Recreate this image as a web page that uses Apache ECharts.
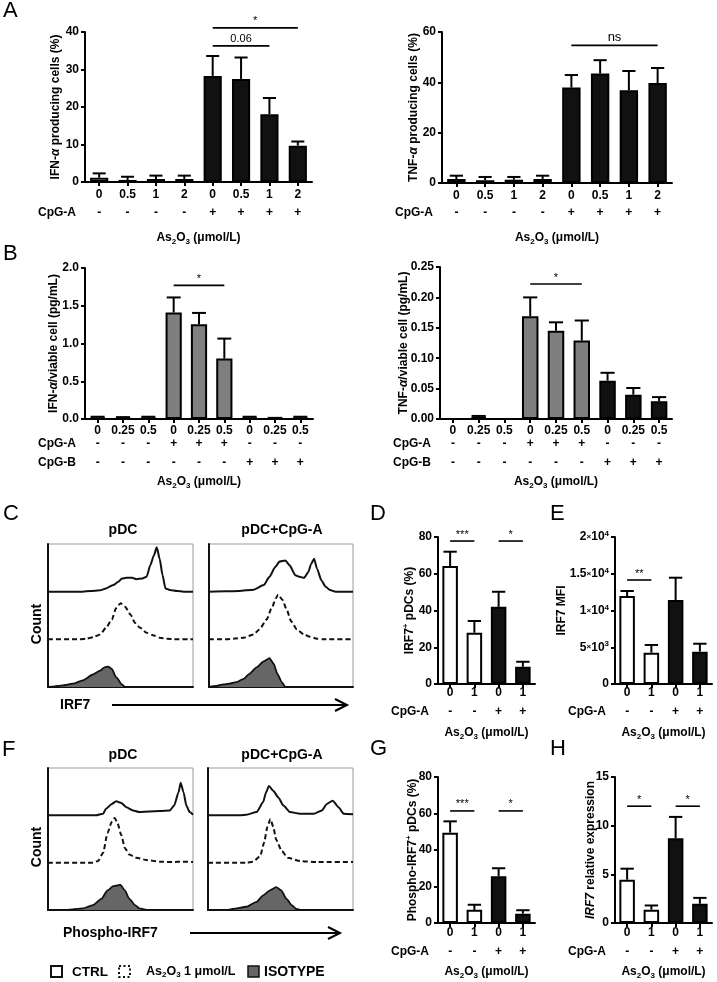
<!DOCTYPE html>
<html><head><meta charset="utf-8">
<script src="https://cdn.jsdelivr.net/npm/echarts@6/dist/echarts.min.js"></script>
<style>html,body{margin:0;padding:0;background:#fff}#c{width:717px;height:982px}</style>
</head><body><div id="c"></div><script>
// ---------- Panel A ----------
const aDose = ['0','0.5','1','2','0','0.5','1','2'];
const aCpgA = ['-','-','-','-','+','+','+','+'];
const aIfnMean = [1.15,0.55,0.8,0.8,28.3,27.5,18.1,9.7];
const aIfnSem  = [1.15,0.85,0.9,0.9,5.3,5.7,4.3,1.1];
const aIfnSig = [[4,7,41.1],[4,6,36.3]];
const aIfnSigText = ['*','0.06'];
const aTnfMean = [1.6,1.1,1.3,1.6,37.9,43.5,36.9,39.7];
const aTnfSem  = [1.3,1.3,1.1,1.3,5.0,5.3,7.6,6.0];
const aTnfSig = [[4,7,54.7]];
const aTnfSigText = ['ns'];
// ---------- Panel B ----------
const bDose = ['0','0.25','0.5','0','0.25','0.5','0','0.25','0.5'];
const bCpgA = ['-','-','-','+','+','+','-','-','-'];
const bCpgB = ['-','-','-','-','-','-','+','+','+'];
const bIfnMean = [0.02,0.015,0.02,1.41,1.255,0.80,0.02,0.01,0.02];
const bIfnSem  = [0.01,0.01,0.01,0.20,0.15,0.265,0.01,0.005,0.01];
const bIfnSig = [[3,5,1.77]];
const bIfnSigText = ['*'];
const bTnfMean = [0,0.003,0,0.169,0.145,0.129,0.063,0.040,0.029];
const bTnfSem  = [0,0.002,0,0.031,0.014,0.033,0.013,0.011,0.007];
const bTnfSig = [[3,5,0.222]];
const bTnfSigText = ['*'];
// ---------- Panels D, E, G, H ----------
const dDose = ['0','1','0','1'];
const dCpgA = ['-','-','+','+'];
const dMean = [64.2,27.9,42,9.4];
const dSem  = [7.8,6.4,8.2,2.7];
const dSig = [[0,1,77.8],[2,3,77.8]];
const dSigText = ['***','*'];
const eMean = [11970,4260,11430,4400];
const eSem  = [680,1050,3030,1080];
const eSig = [[0,1,14150]];
const eSigText = ['**'];
const eTicks = ['0','5×10³','1×10⁴','1.5×10⁴','2×10⁴'];
const gMean = [49.5,7.2,25.6,5.1];
const gSem  = [6.2,2.8,4.4,1.9];
const gSig = [[0,1,61.4],[2,3,61.4]];
const gSigText = ['***','*'];
const hMean = [4.45,1.37,8.7,1.98];
const hSem  = [1.13,0.43,2.2,0.6];
const hSig = [[0,1,12],[2,3,12]];
const hSigText = ['*','*'];
// ---------- Histograms C (IRF7) and F (Phospho-IRF7): [channel %, count] ----------
const cPdcCtrl = [[0,0],[24,0],[29,2],[36,4],[40,10],[45,20],[48.5,30],[51,40],[54,42],[58,42],[61,38],[65,40],[68,45],[70.5,80],[73,110],[75,135],[77,100],[79,50],[81,10],[84,5],[89,2],[93.5,0],[100,0]];
const cPdcAs = [[0,0],[22,0],[26.5,2],[31,6],[36,15],[40,35],[44,60],[47,95],[50,110],[53,100],[57,75],[60,50],[63.5,35],[68,20],[73,12],[77,5],[82,2],[87,0],[100,0]];
const cPdcIso = [[0,0],[4.6,2],[10,5],[17,10],[24,20],[31,38],[36,50],[39,60],[41.5,62],[44,55],[47,30],[51,8],[53,0],[100,0]];
const cCpgCtrl = [[0,0],[12,1],[21,2],[31,6],[38,20],[42,45],[46,75],[49,92],[53,95],[56,80],[60,50],[63,45],[66,42],[69,60],[71,85],[73,100],[75,70],[78,35],[81,15],[84,5],[88,0],[100,0]];
const cCpgAs = [[0,0],[12,0],[17,2],[24,5],[31,15],[35,30],[40,60],[43.5,95],[46.5,125],[48,136],[51,120],[54,90],[57,55],[61,30],[66,15],[70,8],[75,2],[79.5,0],[100,0]];
const cCpgIso = [[0,0],[5,3],[10,8],[14,10],[19,15],[24,25],[28,40],[33,60],[38,78],[42,88],[45,70],[47.5,40],[50.5,15],[53,0],[100,0]];
const fPdcCtrl = [[0,0],[33,0],[38,5],[40,20],[44,35],[47,43],[50.5,38],[54,25],[58.6,15],[63,10],[70,12],[77,13],[84,15],[87,30],[90,70],[91.5,100],[93.5,70],[95.4,30],[97.7,10],[100,2]];
const fPdcAs = [[0,0],[31,0],[34.5,5],[38,30],[41,90],[44,125],[46,137],[48,120],[50.5,85],[53,45],[56,25],[61,15],[68,8],[77,3],[86,2],[93,3],[100,2]];
const fPdcIso = [[0,0],[12.6,0],[17,2],[24,5],[31,15],[37,35],[41,60],[45,73],[47.6,75],[50,77],[53,60],[56,35],[60,15],[63,5],[68,0],[100,0]];
const fCpgCtrl = [[0,0],[22,0],[26.5,2],[33.5,10],[38,40],[40,70],[42,90],[45,75],[48.5,55],[52,30],[56.6,10],[63.5,5],[73,5],[78.5,15],[82,35],[86,45],[90,25],[93.5,5],[100,3]];
const fCpgAs = [[0,0],[26.5,0],[31,3],[36,20],[38.6,60],[41,110],[43,134],[45,110],[47,70],[51,35],[55,15],[63.5,5],[75,2],[100,2]];
const fCpgIso = [[0,0],[12.7,0],[17,3],[26.5,10],[33.5,25],[38,45],[42.7,60],[47,70],[50.5,60],[54,35],[57.7,15],[61,3],[64.7,0],[100,0]];

// ================= build =================
const FONT = '"Liberation Sans", Arial, Helvetica, sans-serif';
const BAND = 145;
const txt = (size, weight) => ({fontFamily: FONT, fontSize: size, fontWeight: weight || 'bold', color: '#000'});
const rich = {
  i:   {fontFamily: FONT, fontSize: 12, fontWeight: 'bold', fontStyle: 'italic', color: '#000', lineHeight: 16},
  sup: {fontFamily: FONT, fontSize: 8, fontWeight: 'bold', color: '#000', verticalAlign: 'top', lineHeight: 8},
  sub: {fontFamily: FONT, fontSize: 8, fontWeight: 'bold', color: '#000', verticalAlign: 'bottom', lineHeight: 8},
  x:   {fontFamily: FONT, fontSize: 8, fontWeight: 'bold', color: '#000', lineHeight: 14}
};
const supMap = {'⁰':'0','¹':'1','²':'2','³':'3','⁴':'4','⁵':'5','⁶':'6','⁷':'7','⁸':'8','⁹':'9'};
const richify = s => s.replace('×','{x|×}').replace(/[⁰¹²³⁴⁵⁶⁷⁸⁹]/g, c => '{sup|' + supMap[c] + '}');
const AS_NAME = 'As{sub|2}O{sub|3} (μmol/L)';

const grids = [], xAxes = [], yAxes = [], series = [];

function errRender(capRatio) {
  return function (params, api) {
    const i = api.value(0), m = api.value(1), t = api.value(2);
    if (!(t > m)) return;
    const p1 = api.coord([i, m]), p2 = api.coord([i, t]);
    const cw = api.size([1, 0])[0] * capRatio;
    const st = {stroke: '#000', lineWidth: 2};
    return {type: 'group', children: [
      {type: 'line', shape: {x1: p1[0], y1: p1[1], x2: p2[0], y2: p2[1]}, style: st},
      {type: 'line', shape: {x1: p2[0] - cw / 2, y1: p2[1], x2: p2[0] + cw / 2, y2: p2[1]}, style: st}
    ]};
  };
}
function sigRender(labels, fs) {
  return function (params, api) {
    const a = api.coord([api.value(0), api.value(2)]);
    const b = api.coord([api.value(1), api.value(2)]);
    return {type: 'group', children: [
      {type: 'line', shape: {x1: a[0], y1: a[1], x2: b[0], y2: b[1]}, style: {stroke: '#000', lineWidth: 1.6}},
      {type: 'text', x: (a[0] + b[0]) / 2, y: a[1] - 1,
       style: {text: labels[params.dataIndex], fontFamily: FONT, fontSize: fs, fill: '#000', align: 'center', verticalAlign: 'bottom'}}
    ]};
  };
}

function barPanel(p) {
  const gi = grids.length;
  grids.push({left: p.left, top: p.top, width: p.width, height: p.height, containLabel: false, outerBoundsMode: 'none'});
  const yi = yAxes.length;
  yAxes.push({type: 'value', gridIndex: gi, min: 0, max: p.ymax, interval: p.yint,
    axisLine: {show: true, lineStyle: {color: '#000', width: 2}},
    axisTick: {show: true, length: 4, lineStyle: {color: '#000', width: 2}},
    axisLabel: Object.assign(txt(12), {margin: 6, formatter: p.yfmt, rich: rich, lineHeight: 14}),
    splitLine: {show: false},
    name: p.yname, nameLocation: 'middle', nameGap: p.ynameGap, nameRotate: 90, nameMoveOverlap: false,
    nameTextStyle: Object.assign(txt(12), {lineHeight: 16, rich: rich})});
  const xi = xAxes.length;
  xAxes.push({type: 'category', gridIndex: gi, data: p.cats, position: 'bottom',
    axisLine: {show: true, onZero: false, lineStyle: {color: '#000', width: 2}},
    axisTick: {show: true, alignWithLabel: true, length: 4, lineStyle: {color: '#000', width: 2}},
    axisLabel: Object.assign(txt(12), {interval: 0, margin: p.tickOff, verticalAlign: 'middle', hideOverlap: false}),
    splitLine: {show: false}});
  p.rows.forEach(r => xAxes.push({type: 'category', gridIndex: gi, data: r.data, position: 'bottom', offset: r.offset,
    axisLine: {show: false, onZero: false}, axisTick: {show: false},
    axisLabel: Object.assign(txt(12), {interval: 0, margin: 0, verticalAlign: 'middle', hideOverlap: false}),
    splitLine: {show: false},
    name: r.name, nameLocation: 'start', nameGap: 9, nameMoveOverlap: false,
    nameTextStyle: Object.assign(txt(12), {align: 'right', verticalAlign: 'middle'})}));
  xAxes.push({type: 'category', gridIndex: gi, data: p.cats, position: 'bottom', offset: p.asOff,
    axisLine: {show: false, onZero: false}, axisTick: {show: false}, axisLabel: {show: false}, splitLine: {show: false},
    name: AS_NAME, nameLocation: 'middle', nameGap: 0, nameMoveOverlap: false,
    nameTextStyle: Object.assign(txt(12), {verticalAlign: 'middle', lineHeight: 16, rich: rich})});
  series.push({type: 'bar', xAxisIndex: xi, yAxisIndex: yi, barWidth: p.barWidth || '64%', silent: true,
    data: p.means.map((v, i) => ({value: v, itemStyle: {color: p.fill(i), borderColor: '#000', borderWidth: 2}}))});
  series.push({type: 'custom', xAxisIndex: xi, yAxisIndex: yi, silent: true, z: 3,
    data: p.means.map((v, i) => [i, v, v + p.sems[i]]), renderItem: errRender(p.cap || 0.5)});
  series.push({type: 'custom', xAxisIndex: xi, yAxisIndex: yi, silent: true, z: 4, clip: false,
    encode: {x: [0, 1], y: [2]}, data: p.sig, renderItem: sigRender(p.sigText, p.sigFs || 11)});
}

function histPanel(h) {
  const gi = grids.length;
  grids.push({left: h.left, top: h.top, width: h.width, height: h.height, show: true, borderColor: '#9a9a9a', borderWidth: 1, containLabel: false, outerBoundsMode: 'none'});
  const xi = xAxes.length;
  xAxes.push({type: 'value', gridIndex: gi, min: 0, max: 100, axisLine: {show: true, onZero: false, lineStyle: {color: '#111', width: 2}},
    axisTick: {show: false}, axisLabel: {show: false}, splitLine: {show: false}});
  const yi = yAxes.length;
  yAxes.push({type: 'value', gridIndex: gi, min: 0, max: 3 * BAND, axisLine: {show: true, onZero: false, lineStyle: {color: '#111', width: 2}},
    axisTick: {show: false}, axisLabel: {show: false}, splitLine: {show: false}});
  const base = {type: 'line', xAxisIndex: xi, yAxisIndex: yi, symbol: 'none', showSymbol: false, smooth: 0.2, smoothMonotone: 'x', silent: true};
  series.push(Object.assign({}, base, {data: h.iso.map(p => [p[0], p[1]]),
    lineStyle: {color: '#111', width: 1.8}, areaStyle: {color: '#666', opacity: 1}}));
  series.push(Object.assign({}, base, {data: h.as.map(p => [p[0], p[1] + BAND]),
    lineStyle: {color: '#111', width: 2, type: [5, 3]}}));
  series.push(Object.assign({}, base, {data: h.ctrl.map(p => [p[0], p[1] + 2 * BAND]),
    lineStyle: {color: '#111', width: 2}}));
}

const whiteBlack = cpg => i => cpg[i] === '+' ? '#111' : '#fff';
const bFill = i => bCpgA[i] === '+' ? '#7f7f7f' : (bCpgB[i] === '+' ? '#111' : '#fff');

// A
barPanel({left: 85, top: 32, width: 227, height: 150, cats: aDose, means: aIfnMean, sems: aIfnSem, fill: whiteBlack(aCpgA),
  ymax: 40, yint: 10, tickOff: 13, rows: [{name: 'CpG-A', data: aCpgA, offset: 31}], asOff: 55.5,
  yname: 'IFN-{i|α} producing cells (%)', ynameGap: 21, sig: aIfnSig, sigText: aIfnSigText, sigFs: 11, cap: 0.46});
barPanel({left: 442, top: 32, width: 230, height: 151, cats: aDose, means: aTnfMean, sems: aTnfSem, fill: whiteBlack(aCpgA),
  ymax: 60, yint: 20, tickOff: 13, rows: [{name: 'CpG-A', data: aCpgA, offset: 30}], asOff: 54.5,
  yname: 'TNF-{i|α} producing cells (%)', ynameGap: 20, sig: aTnfSig, sigText: aTnfSigText, sigFs: 13, cap: 0.46});
// B
barPanel({left: 85, top: 268, width: 228, height: 151, cats: bDose, means: bIfnMean, sems: bIfnSem, fill: bFill,
  ymax: 2, yint: 0.5, yfmt: v => v.toFixed(1), tickOff: 12,
  rows: [{name: 'CpG-A', data: bCpgA, offset: 25}, {name: 'CpG-B', data: bCpgB, offset: 44}], asOff: 63,
  yname: 'IFN-{i|α}/viable cell (pg/mL)', ynameGap: 23, sig: bIfnSig, sigText: bIfnSigText, sigFs: 11, cap: 0.55});
barPanel({left: 440, top: 267, width: 232, height: 152, cats: bDose, means: bTnfMean, sems: bTnfSem, fill: bFill,
  ymax: 0.25, yint: 0.05, yfmt: v => v.toFixed(2), tickOff: 12,
  rows: [{name: 'CpG-A', data: bCpgA, offset: 25}, {name: 'CpG-B', data: bCpgB, offset: 44}], asOff: 63,
  yname: 'TNF-{i|α}/viable cell (pg/mL)', ynameGap: 28, sig: bTnfSig, sigText: bTnfSigText, sigFs: 11, cap: 0.55});
// D, E
barPanel({left: 438, top: 537, width: 97, height: 147, cats: dDose, means: dMean, sems: dSem, fill: whiteBlack(dCpgA),
  ymax: 80, yint: 20, tickOff: 9, rows: [{name: 'CpG-A', data: dCpgA, offset: 28}], asOff: 49,
  yname: 'IRF7{sup|+} pDCs (%)', ynameGap: 20, sig: dSig, sigText: dSigText, sigFs: 11, cap: 0.55});
barPanel({left: 615, top: 537, width: 97, height: 147, cats: dDose, means: eMean, sems: eSem, fill: whiteBlack(dCpgA),
  ymax: 20000, yint: 5000, yfmt: (v, i) => richify(eTicks[i]), tickOff: 9, rows: [{name: 'CpG-A', data: dCpgA, offset: 28}], asOff: 49,
  yname: 'IRF7 MFI', ynameGap: 45, sig: eSig, sigText: eSigText, sigFs: 11, cap: 0.55});
// G, H
barPanel({left: 438, top: 777, width: 97, height: 146, cats: dDose, means: gMean, sems: gSem, fill: whiteBlack(dCpgA),
  ymax: 80, yint: 20, tickOff: 10, rows: [{name: 'CpG-A', data: dCpgA, offset: 29}], asOff: 49,
  yname: 'Phospho-IRF7{sup|+} pDCs (%)', ynameGap: 17, sig: gSig, sigText: gSigText, sigFs: 11, cap: 0.55});
barPanel({left: 615, top: 777, width: 97, height: 146, cats: dDose, means: hMean, sems: hSem, fill: whiteBlack(dCpgA),
  ymax: 15, yint: 5, tickOff: 10, rows: [{name: 'CpG-A', data: dCpgA, offset: 29}], asOff: 49,
  yname: '{i|IRF7} relative expression', ynameGap: 16, sig: hSig, sigText: hSigText, sigFs: 11, cap: 0.55});
// C, F histograms
histPanel({left: 48, top: 544, width: 145, height: 143, ctrl: cPdcCtrl, as: cPdcAs, iso: cPdcIso});
histPanel({left: 209, top: 544, width: 144, height: 143, ctrl: cCpgCtrl, as: cCpgAs, iso: cCpgIso});
histPanel({left: 48, top: 768, width: 145, height: 142, ctrl: fPdcCtrl, as: fPdcAs, iso: fPdcIso});
histPanel({left: 208, top: 768, width: 145, height: 142, ctrl: fCpgCtrl, as: fCpgAs, iso: fCpgIso});

// free text / decorations
const els = [];
function gt(x, y, text, size, weight, align, extra) {
  els.push(Object.assign({type: 'text', x: x, y: y, silent: true,
    style: {text: text, fontFamily: FONT, fontSize: size, fontWeight: weight, fill: '#000', align: align || 'left', verticalAlign: 'middle', rich: rich}}, extra || {}));
}
[['A', 3, 11], ['B', 3, 254], ['C', 3, 514], ['D', 370, 514], ['E', 550, 514], ['F', 2, 750], ['G', 370, 749], ['H', 550, 749]]
  .forEach(l => gt(l[1], l[2], l[0], 22, 'normal'));
gt(123, 530, 'pDC', 14, 'bold', 'center');
gt(282, 530, 'pDC+CpG-A', 14, 'bold', 'center');
gt(123, 755, 'pDC', 14, 'bold', 'center');
gt(282, 755, 'pDC+CpG-A', 14, 'bold', 'center');
gt(37, 624, 'Count', 14, 'bold', 'center', {rotation: Math.PI / 2});
gt(37, 847, 'Count', 14, 'bold', 'center', {rotation: Math.PI / 2});
gt(60, 705, 'IRF7', 14, 'bold');
gt(63, 933, 'Phospho-IRF7', 14, 'bold');
function arrow(x1, x2, y) {
  els.push({type: 'polyline', silent: true, shape: {points: [[x1, y], [x2, y]]}, style: {stroke: '#000', lineWidth: 2, fill: null}});
  els.push({type: 'polyline', silent: true, shape: {points: [[x2 - 12, y - 6], [x2, y], [x2 - 12, y + 6]]}, style: {stroke: '#000', lineWidth: 2, fill: null}});
}
arrow(112, 347, 705);
arrow(190, 340, 933);
// legend
els.push({type: 'rect', silent: true, shape: {x: 51, y: 966, width: 11, height: 11}, style: {fill: '#fff', stroke: '#111', lineWidth: 2}});
gt(72, 972, 'CTRL', 13.5, 'bold');
els.push({type: 'rect', silent: true, shape: {x: 119, y: 966, width: 11, height: 11}, style: {fill: null, stroke: '#111', lineWidth: 2, lineDash: [2, 2.5]}});
gt(146, 972, 'As{sub|2}O{sub|3} 1 μmol/L', 12.5, 'bold');
els.push({type: 'rect', silent: true, shape: {x: 248, y: 966, width: 11, height: 11}, style: {fill: '#666', stroke: '#111', lineWidth: 1.5}});
gt(264, 972, 'ISOTYPE', 14, 'bold');

const chart = echarts.init(document.getElementById('c'), null, {renderer: 'canvas', width: 717, height: 982});
chart.setOption({
  animation: false, backgroundColor: '#fff',
  grid: grids, xAxis: xAxes, yAxis: yAxes, series: series,
  graphic: {elements: els}
});
</script></body></html>
